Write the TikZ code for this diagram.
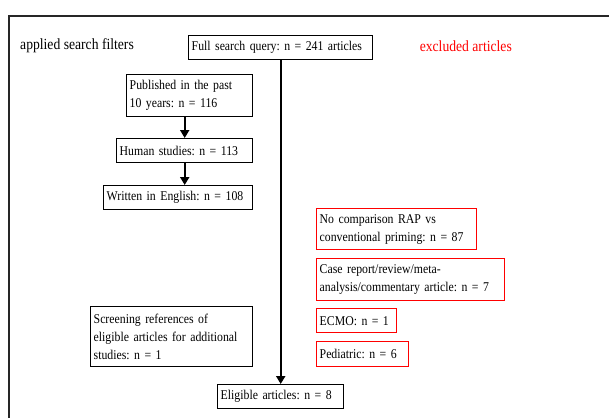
\documentclass[tikz,border=0pt]{standalone}
\usepackage{fontspec}
\setmainfont{Liberation Serif}
\newfontfamily\narrowserif{Liberation Serif}[FakeStretch=0.88]
\usepackage{tikz}
\usetikzlibrary{arrows.meta}

\newcommand{\boxfont}{\narrowserif\fontsize{13.4}{18}\selectfont\frenchspacing}
\newcommand{\headfont}{\narrowserif\fontsize{15.5}{18}\selectfont}

\tikzset{
    fbox/.style 2 args={draw, line width=1.4pt, anchor=north west, align=left,
        inner xsep=3pt, inner ysep=2pt, font=\boxfont,
        text width={#1-6pt}, minimum height=#2},
    exbox/.style 2 args={fbox={#1}{#2}, draw=red},
    flow/.style={line width=2.4pt, -{Triangle[length=8pt,width=9pt]}}
}

\begin{document}
\begin{tikzpicture}[x=1pt,y=-1pt]
        \useasboundingbox (0,0) rectangle (609,418);

        % outer frame (cut off at right and bottom)
        \draw[line width=1.4pt, black!85] (609,16) -- (9,16) -- (9,418);

        % column headers
        \node[anchor=west, font=\headfont, inner sep=0pt] (filters) at (20,46) {applied search filters};
        \node[anchor=east, font=\headfont, inner sep=0pt, text=red] (excluded) at (512,46) {excluded articles};

        % main query and result
        \node[fbox={184pt}{24pt}] (query) at (188,35) {Full search query: n = 241 articles};
        \node[fbox={126pt}{24pt}] (elig) at (217,384) {Eligible articles: n = 8};

        % search filters
        \node[fbox={126pt}{42pt}] (pub) at (126,74) {Published in the past\\10 years: n = 116};
        \node[fbox={136pt}{24pt}] (human) at (116,138) {Human studies: n = 113};
        \node[fbox={149pt}{24pt}] (english) at (103,185) {Written in English: n = 108};
        \node[fbox={162pt}{60pt}] (screen) at (90,306) {Screening references of\\eligible articles for additional\\studies: n = 1};

        % excluded articles
        \node[exbox={160pt}{41pt}] (nocomp) at (316,208) {No comparison RAP vs\\conventional priming: n = 87};
        \node[exbox={188pt}{42pt}] (review) at (316,258) {Case report/review/meta-\\analysis/commentary article: n = 7};
        \node[exbox={80pt}{24pt}] (ecmo) at (316,308) {ECMO: n = 1};
        \node[exbox={92pt}{25pt}] (pediatric) at (316,341) {Pediatric: n = 6};

        % arrows
        \draw[flow] (query.south) -- (elig.north);
        \draw[flow] (pub.south -| human.north) -- (human.north);
        \draw[flow] (human.south) -- (english.north -| human.south);
\end{tikzpicture}
\end{document}
